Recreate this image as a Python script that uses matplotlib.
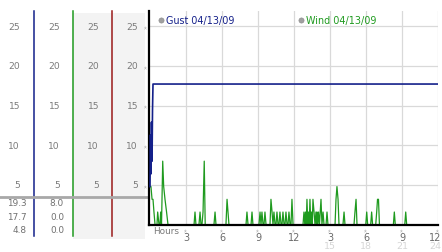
import matplotlib
matplotlib.use('Agg')
import matplotlib.pyplot as plt
import matplotlib.transforms as mtransforms

# ============ DATA ============
# gust (km/h) - quick ramp at the start, then flat
gust_hours = [0.0, 0.04, 0.08, 0.12, 0.17, 0.21, 0.25, 24.0]
gust_vals  = [4.8, 11.3, 6.4, 12.9, 8.0, 14.5, 17.7, 17.7]

# wind (km/h) readings as (hour, value); zeros are the baseline readings
wind_readings = [
    (0.00, 4.8), (0.08, 4.8), (0.17, 3.2), (0.25, 3.2), (0.33, 1.6), (0.42, 0.0),
    (0.58, 0.0), (0.64, 1.6), (0.75, 0.0), (0.83, 0.0), (0.89, 1.6), (0.96, 0.0),
    (1.06, 8.0), (1.14, 4.8), (1.25, 3.2), (1.38, 1.6), (1.50, 0.0),
    (3.67, 0.0), (3.75, 1.6), (3.83, 0.0),
    (4.08, 0.0), (4.17, 1.6), (4.25, 0.0),
    (4.33, 0.0), (4.42, 1.6), (4.52, 8.0), (4.60, 0.0),
    (5.33, 0.0), (5.42, 1.6), (5.50, 0.0),
    (6.33, 0.0), (6.42, 3.2), (6.50, 1.6), (6.58, 0.0),
    (8.00, 0.0), (8.08, 1.6), (8.17, 0.0),
    (8.42, 0.0), (8.50, 1.6), (8.58, 0.0),
    (9.08, 0.0), (9.17, 1.6), (9.25, 0.0), (9.33, 1.6), (9.42, 0.0),
    (9.50, 0.0), (9.58, 1.6), (9.67, 0.0),
    (10.00, 0.0), (10.08, 3.2), (10.17, 1.6), (10.25, 0.0),
    (10.33, 1.6), (10.42, 0.0), (10.50, 0.0), (10.58, 1.6), (10.67, 0.0),
    (10.75, 0.0), (10.83, 1.6), (10.92, 0.0), (11.00, 0.0), (11.08, 1.6),
    (11.17, 0.0), (11.25, 0.0), (11.33, 1.6), (11.42, 0.0), (11.50, 0.0),
    (11.58, 1.6), (11.67, 0.0),
    (11.75, 0.0), (11.83, 3.2), (11.92, 0.0),
    (12.75, 0.0), (12.83, 1.6), (12.90, 0.0), (12.96, 1.6), (13.02, 0.0),
    (13.08, 3.2), (13.15, 0.0), (13.21, 1.6), (13.27, 0.0), (13.33, 3.2),
    (13.40, 0.0), (13.46, 1.6), (13.52, 0.0), (13.58, 3.2), (13.67, 1.6),
    (13.75, 0.0), (13.83, 1.6), (13.88, 0.0), (13.92, 1.6), (13.98, 0.0),
    (14.04, 1.6), (14.12, 0.0), (14.25, 3.2), (14.33, 0.0), (14.42, 1.6),
    (14.50, 0.0), (14.67, 0.0), (14.75, 1.6), (14.83, 0.0),
    (15.42, 0.0), (15.50, 3.2), (15.58, 4.8), (15.67, 3.2), (15.75, 0.0),
    (16.08, 0.0), (16.17, 1.6), (16.25, 0.0),
    (17.00, 0.0), (17.08, 1.6), (17.17, 3.2), (17.25, 0.0),
    (17.98, 0.0), (18.06, 1.6), (18.14, 0.0),
    (18.39, 0.0), (18.47, 1.6), (18.55, 0.0),
    (18.81, 0.0), (18.89, 1.6), (18.96, 3.2), (19.04, 3.2), (19.12, 0.0),
    (20.28, 0.0), (20.36, 1.6), (20.44, 0.0),
    (21.23, 0.0), (21.31, 1.6), (21.39, 0.0),
    (24.00, 0.0),
]
wind_hours = [h for h, v in wind_readings]
wind_vals = [v for h, v in wind_readings]

y_ticks = [5, 10, 15, 20, 25]
x_ticks = [3, 6, 9, 12, 15, 18, 21, 24]
x_top_labels = ['3', '6', '9', '12', '3', '6', '9', '12']
x_bot_labels = ['', '', '', '', '15', '18', '21', '24']

gust_stats = ['19.3', '17.7', '4.8']
wind_stats = ['8.0', '0.0', '0.0']

GUST_C = '#14208a'
WIND_C = '#1f9a1f'
RED_C = '#9a1a1a'
LBL_C = '#7a7a7a'

# ============ FIGURE ============
W, H = 442, 253
fig = plt.figure(figsize=(W / 100, H / 100), dpi=100)
fig.patch.set_facecolor('white')

# pixel-space background axes for the left panel decorations
bg = fig.add_axes([0, 0, 1, 1])
bg.set_xlim(0, W)
bg.set_ylim(H, 0)
bg.axis('off')

px_per_unit = 7.95
y0_px = 225.75
ax_top_px = 12
ax_left_px, ax_right_px = 149, 438
ax = fig.add_axes([ax_left_px / W, (H - y0_px) / H,
                   (ax_right_px - ax_left_px) / W, (y0_px - ax_top_px) / H])
ax.set_xlim(-1 / 12, (ax_right_px - 150) / 12)
ax.set_ylim(0, (y0_px - ax_top_px) / px_per_unit)
ax.set_facecolor('white')
ax.set_xticks([])
ax.set_yticks([])
for s in ['top', 'right']:
    ax.spines[s].set_visible(False)
ax.spines['left'].set_color('black')
ax.spines['left'].set_linewidth(1.6)
ax.spines['bottom'].set_color('black')
ax.spines['bottom'].set_linewidth(1.6)

for yv in y_ticks:
    ax.axhline(yv, color='#d9d9d9', lw=0.9, zorder=0)
for xv in x_ticks:
    ax.axvline(xv, color='#d9d9d9', lw=0.9, zorder=0)

ax.plot(wind_hours, wind_vals, color=WIND_C, lw=0.9, zorder=2)
ax.plot(gust_hours, gust_vals, color=GUST_C, lw=1.2, zorder=3)

# legend as text with grey dots
ax.scatter([0.9], [25.8], s=14, color='#a0a0a0', edgecolor='#888888', lw=0.4,
           zorder=4, clip_on=False)
ax.text(1.3, 25.8, 'Gust 04/13/09', color=GUST_C, fontsize=6.9,
        va='center', ha='left')
ax.scatter([12.6], [25.8], s=14, color='#a0a0a0', edgecolor='#888888', lw=0.4,
           zorder=4, clip_on=False)
ax.text(13.0, 25.8, 'Wind 04/13/09', color=WIND_C, fontsize=6.9,
        va='center', ha='left')

# ============ LEFT PANEL ============
bg.add_patch(plt.Rectangle((73, 14), 72, 226, color='#f3f3f3', lw=0, zorder=0))
bg.plot([33.5, 33.5], [12, 237], color=GUST_C, lw=1.1)
bg.plot([72.5, 72.5], [12, 237], color=WIND_C, lw=1.1)
bg.plot([111.5, 111.5], [12, 237], color=RED_C, lw=1.1)
bg.plot([0, 149], [197.5, 197.5], color='#a8a8a8', lw=2.0)

yblend = mtransforms.blended_transform_factory(bg.transData, ax.transData)
for col_right in [20, 60, 99, 138]:
    for yv in y_ticks:
        bg.text(col_right, yv, str(yv), transform=yblend, ha='right',
                va='center', fontsize=6.6, color=LBL_C)
for yv in y_ticks:
    bg.text(146, yv, '»', transform=yblend, ha='center', va='center',
            fontsize=4.5, color='#999999', rotation=90)

for i, (g, w) in enumerate(zip(gust_stats, wind_stats)):
    ypx = 204 + i * 13.5
    bg.text(27, ypx, g, ha='right', va='center', fontsize=6.4, color='#707070')
    bg.text(64, ypx, w, ha='right', va='center', fontsize=6.4, color='#707070')

# ============ X AXIS LABELS ============
xblend = mtransforms.blended_transform_factory(ax.transData, bg.transData)
bg.text(153, 231.5, 'Hours', ha='left', va='center', fontsize=6.4, color=LBL_C)
for xv, top, bot in zip(x_ticks, x_top_labels, x_bot_labels):
    bg.text(xv, 230, '»', transform=xblend, ha='center', va='center',
            fontsize=4.5, color='#999999', rotation=90)
    # last label sits at the right edge, anchor it by its right side
    if xv == x_ticks[-1]:
        xpos, ha = xv + 0.3, 'right'
    else:
        xpos, ha = xv, 'center'
    bg.text(xpos, 238.5, top, transform=xblend, ha=ha, va='center',
            fontsize=7, color='#6a6a6a')
    if bot:
        bg.text(xpos, 247, bot, transform=xblend, ha=ha, va='center',
                fontsize=6.8, color='#d6d6d6')

fig.savefig('out.png', dpi=100)
